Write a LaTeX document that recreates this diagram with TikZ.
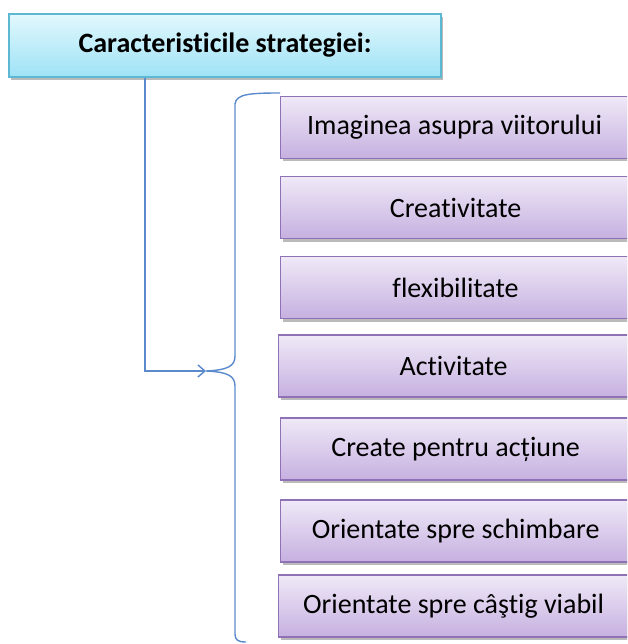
\documentclass[tikz,border=0pt]{standalone}
\usepackage{fontspec}
\setmainfont{Carlito}[Ligatures=NoCommon]
\usetikzlibrary{shadows,arrows.meta}
\definecolor{hdtop}{HTML}{E2F8FD}
\definecolor{hdbot}{HTML}{9EE2F6}
\definecolor{hdline}{HTML}{5DB9D3}
\definecolor{bxtop}{HTML}{EFE9F7}
\definecolor{bxbot}{HTML}{C6B0E0}
\definecolor{bxline}{HTML}{8F72B6}
\definecolor{conn}{HTML}{5A8ACB}
\tikzset{
  shad/.style={drop shadow={shadow xshift=2pt,shadow yshift=-3pt,opacity=.45,fill=black!60}},
  headbox/.style={draw=hdline,line width=1.2pt,top color=hdtop,bottom color=hdbot,shad,
    minimum width=432pt,minimum height=63pt,inner sep=0pt,font=\fontsize{28}{30}\selectfont\bfseries},
  itembox/.style={draw=bxline,line width=1.2pt,top color=bxtop,bottom color=bxbot,shad,
    minimum width=350pt,minimum height=62pt,inner sep=0pt,anchor=west,font=\fontsize{28}{30}\selectfont},
  conn/.style={draw=conn,line width=1.4pt},
}
\begin{document}
\begin{tikzpicture}[x=1pt,y=-1pt]
\useasboundingbox (0,0) rectangle (627,644);
\clip (0,0) rectangle (627,644);
\node[headbox] (head) at (225,45.5) {Caracteristicile strategiei:};
\node[itembox] (b1) at (280,127.5) {\hspace*{-2pt}Imaginea asupra viitorului};
\node[itembox] (b2) at (280,207.5) {Creativitate};
\node[itembox] (b3) at (280,287.5) {flexibilitate};
\node[itembox] (b4) at (278,366) {Activitate};
\node[itembox] (b5) at (280,449) {Create pentru acțiune};
\node[itembox] (b6) at (280,531) {Orientate spre schimbare};
\node[itembox] (b7) at (278,606) {Orientate spre câştig viabil};
\coordinate (tip) at (206,371);
\draw[conn] (280,93) .. controls (250,93) and (236,94) .. (235,104) -- (235,356)
  .. controls (235,366) and (228,370) .. (tip)
  .. controls (228,372) and (235,376) .. (235,386) -- (235,634)
  .. controls (235,640) and (238,642) .. (246,642);
\draw[conn,-{Straight Barb[length=7pt,width=12pt]}] ([xshift=-80pt]head.south) |- (tip);
\end{tikzpicture}
\end{document}
